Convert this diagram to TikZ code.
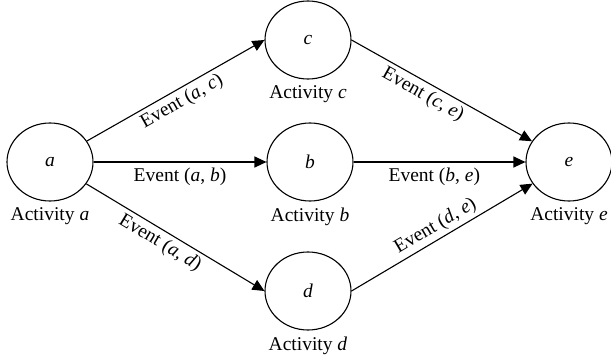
\documentclass[tikz,border=0pt]{standalone}
\usepackage{fontspec}
\setmainfont{Liberation Serif}
\usetikzlibrary{shapes.geometric, positioning, arrows.meta}

\begin{document}
\begin{tikzpicture}
        [x=1pt, y=-1pt, font=\fontsize{19.5}{23}\selectfont,
        activity/.style={ellipse, draw, line width=1.1pt, minimum width=86pt, minimum height=78pt, inner sep=0pt},
        caption/.style={inner sep=1pt},
        event/.style={line width=1.1pt, black, -{Triangle[length=12pt, width=11pt]}}]

        \useasboundingbox (0,0) rectangle (611,362);

        \node[activity] (a) at (50,162) {\textit{a}};
        \node[activity] (b) at (310,162) {\textit{b}};
        \node[activity] (c) at (308,40) {\textit{c}};
        \node[activity] (d) at (308,291) {\textit{d}};
        \node[activity] (e) at (569,162) {\textit{e}};

        % captions under the activities
        \node[caption, below=5pt of a] (la) {Activity \textit{a}};
        \node[caption, below=5pt of b] (lb) {Activity \textit{b}};
        \node[caption, below=5pt of c] (lc) {Activity \textit{c}};
        \node[caption, below=5pt of d] (ld) {Activity \textit{d}};
        \node[caption, below=5pt of e] (le) {Activity \textit{e}};

        % events leaving a
        \draw[event] (a) -- (c.west) node[midway, sloped, below] {Event (\textit{a}, \textit{c})};
        \draw[event] (a) -- (b) node[midway, below, yshift=-2pt] {Event (\textit{a}, \textit{b})};
        \draw[event] (a) -- (d.west) node[pos=0.45, sloped, below] {Event (\textit{a}, \textit{d})};

        % events entering e
        \draw[event] (c.east) -- (e) node[pos=0.43, sloped, below] {Event (\textit{c}, \textit{e})};
        \draw[event] (b) -- (e) node[pos=0.47, below, yshift=-2pt] {Event (\textit{b}, \textit{e})};
        \draw[event] (d.east) -- (e) node[midway, sloped, above] {Event (\textit{d}, \textit{e})};

    \end{tikzpicture}
\end{document}
